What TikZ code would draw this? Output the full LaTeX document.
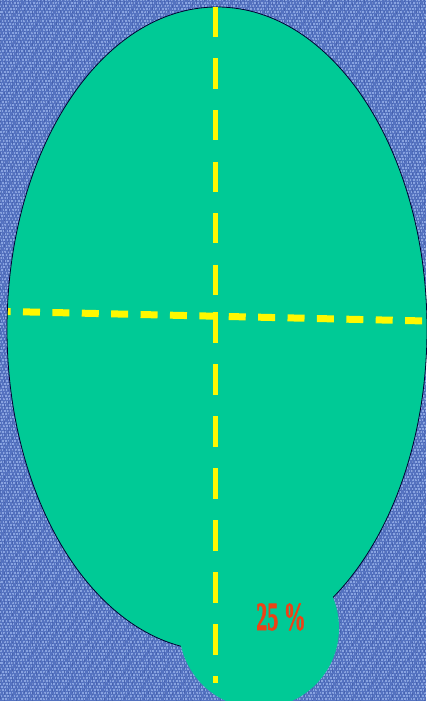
\documentclass[tikz,border=0pt]{standalone}
\usepackage{fontspec}
\setmainfont{Liberation Serif}
\newfontfamily\pctfont[BoldFeatures={FakeBold=1.6}]{Liberation Serif}
\definecolor{denim}{RGB}{84,114,192}
\definecolor{denimlight}{RGB}{172,196,246}
\definecolor{denimdark}{RGB}{42,66,140}
\definecolor{leaf}{RGB}{0,202,150}
\definecolor{dashyellow}{RGB}{255,248,0}
\definecolor{pctred}{RGB}{236,66,22}
\tikzset{
  shapefill/.style={fill=leaf},
  shapeedge/.style={draw=black!80!blue, line width=0.8pt},
  vdash/.style={draw=dashyellow, line width=5pt, line cap=butt},
  hdash/.style={draw=dashyellow, line width=7pt, line cap=butt},
  pct/.style={text=pctred, font=\pctfont\fontsize{40}{40}\selectfont\bfseries, inner sep=0pt}
}
\begin{document}
\begin{tikzpicture}[x=1pt,y=-1pt]
\useasboundingbox (0,0) rectangle (426,701);
% textured background
\fill[denim] (0,0) rectangle (426,701);
\begin{scope}
\clip (0,0) rectangle (426,701);
\foreach \r in {0,3,...,702} {
  \draw[denimlight, opacity=0.6, line width=1.3pt, dash pattern=on 2pt off 1.5pt on 1pt off 2.5pt on 1.5pt off 1pt, dash phase=\r*0.7] (0,\r) -- (426,\r);
}
\foreach \c in {0,4,...,428} {
  \draw[denimdark, opacity=0.3, line width=0.9pt, dash pattern=on 3pt off 2pt on 1pt off 2pt, dash phase=\c*0.9] (\c,0) -- (\c,701);
}
\end{scope}
% main ellipse with outline
\path[shapefill, shapeedge] (217,329) ellipse [x radius=210pt, y radius=322pt];
% bottom bulge
\fill[leaf] (259,628) circle [radius=80pt];
% dashed lines
\coordinate (vtop) at (215.5,7);
\coordinate (vmid) at (215.5,295);
\coordinate (vstart) at (215.5,312);
\coordinate (vend) at (215.5,683);
\coordinate (hleft) at (8,311.5);
\coordinate (hright) at (426,321);
\draw[hdash, dash pattern=on 17pt off 12.4pt, dash phase=14.4pt] (hleft) -- (hright);
\draw[vdash, dash pattern=on 30pt off 21.5pt] (vtop) -- (vmid);
\draw[vdash, dash pattern=on 31pt off 21pt] (vstart) -- (vend);
% label
\node[pct, anchor=base] (label) at (281,630) {\scalebox{0.55}[1]{25 \%}};
\end{tikzpicture}
\end{document}
